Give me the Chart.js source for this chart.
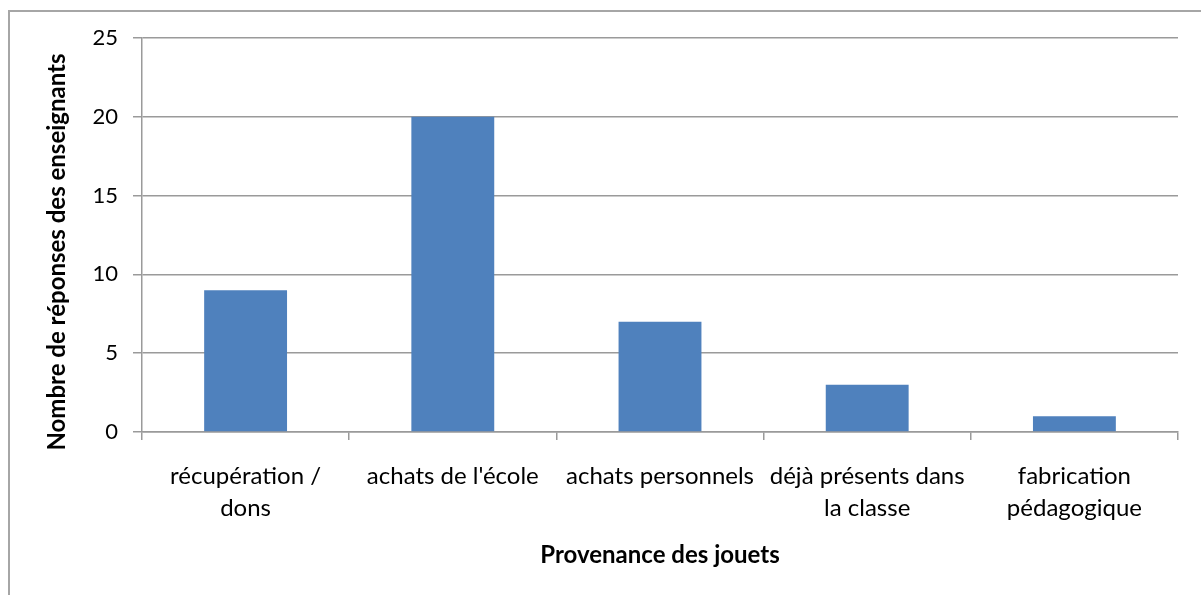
<!DOCTYPE html>
<html>
<head>
<meta charset="utf-8">
<script src="https://cdn.jsdelivr.net/npm/chart.js@4.4.0/dist/chart.umd.min.js"></script>
<style>
body { margin: 0; background: #fff; }
#wrap { position: relative; width: 1201px; height: 595px; overflow: hidden; }
#frame { position: absolute; left: 8px; top: 10px; right: -10px; bottom: -10px; border-top: 2px solid #a6a6a6; border-left: 2px solid #a6a6a6; }
canvas { position: absolute; left: 0; top: 0; }
</style>
</head>
<body>
<div id="wrap">
  <div id="frame"></div>
  <canvas id="toysChart" width="1201" height="595"></canvas>
</div>
<script>
// Provenance des jouets (categories, with line breaks as in the picture)
const categories = [
    ['récupération /', 'dons'],
    ["achats de l'école"],
    ['achats personnels'],
    ['déjà présents dans', 'la classe'],
    ['fabrication', 'pédagogique']
];
// Nombre de réponses
const responses = [9, 20, 7, 3, 1];

const yMin = 0;
const yMax = 25;
const yStep = 5;

const xTitle = 'Provenance des jouets';
const yTitle = 'Nombre de réponses des enseignants';

const gridColor = '#9a9a9a';
const fontFamily = 'Lato, "Open Sans", sans-serif';

// y title drawn by hand so it can sit a bit lower than the plot centre (like Excel does)
const yTitlePlugin = {
    id: 'yTitle',
    afterDraw(chart) {
        const ctx = chart.ctx;
        const area = chart.chartArea;
        ctx.save();
        ctx.translate(chart.scales.y.left + 57, (area.top + area.bottom) / 2 + 17);
        ctx.rotate(-Math.PI / 2);
        ctx.font = 'bold 24px ' + fontFamily;
        ctx.fillStyle = '#000';
        ctx.textAlign = 'center';
        ctx.textBaseline = 'middle';
        ctx.fillText(yTitle, 0, 0);
        ctx.restore();
    }
};

var ctx = document.getElementById('toysChart').getContext('2d');
var myChart = new Chart(ctx, {
    type: 'bar',
    data: {
        labels: categories,
        datasets: [{
            data: responses,
            backgroundColor: '#4f81bd',
            borderWidth: 0,
            categoryPercentage: 1,
            barPercentage: 0.4
        }]
    },
    plugins: [yTitlePlugin],
    options: {
        responsive: false,
        animation: false,
        layout: {
            padding: { left: 0, top: 38, right: 23, bottom: 0 }
        },
        plugins: {
            legend: { display: false },
            tooltip: { enabled: false }
        },
        scales: {
            x: {
                grid: {
                    offset: true,
                    drawOnChartArea: false,
                    drawTicks: true,
                    tickLength: 8,
                    color: gridColor,
                    lineWidth: 1.5
                },
                border: { color: gridColor, width: 1.5 },
                ticks: {
                    color: '#000',
                    font: { family: fontFamily, size: 24, lineHeight: 1.33 },
                    padding: 20,
                    maxRotation: 0,
                    autoSkip: false
                },
                title: {
                    display: true,
                    text: xTitle,
                    color: '#000',
                    font: { family: fontFamily, size: 24, weight: 'bold' },
                    padding: { top: 0, bottom: 25 }
                },
                afterFit: scale => { scale.height = 163; }
            },
            y: {
                min: yMin,
                max: yMax,
                ticks: {
                    stepSize: yStep,
                    color: '#000',
                    font: { family: fontFamily, size: 22 },
                    padding: 15
                },
                grid: {
                    color: gridColor,
                    lineWidth: 1.5,
                    tickLength: 9
                },
                border: { color: gridColor, width: 1.5 },
                afterFit: scale => { scale.width = 142; }
            }
        }
    }
});
</script>
</body>
</html>
